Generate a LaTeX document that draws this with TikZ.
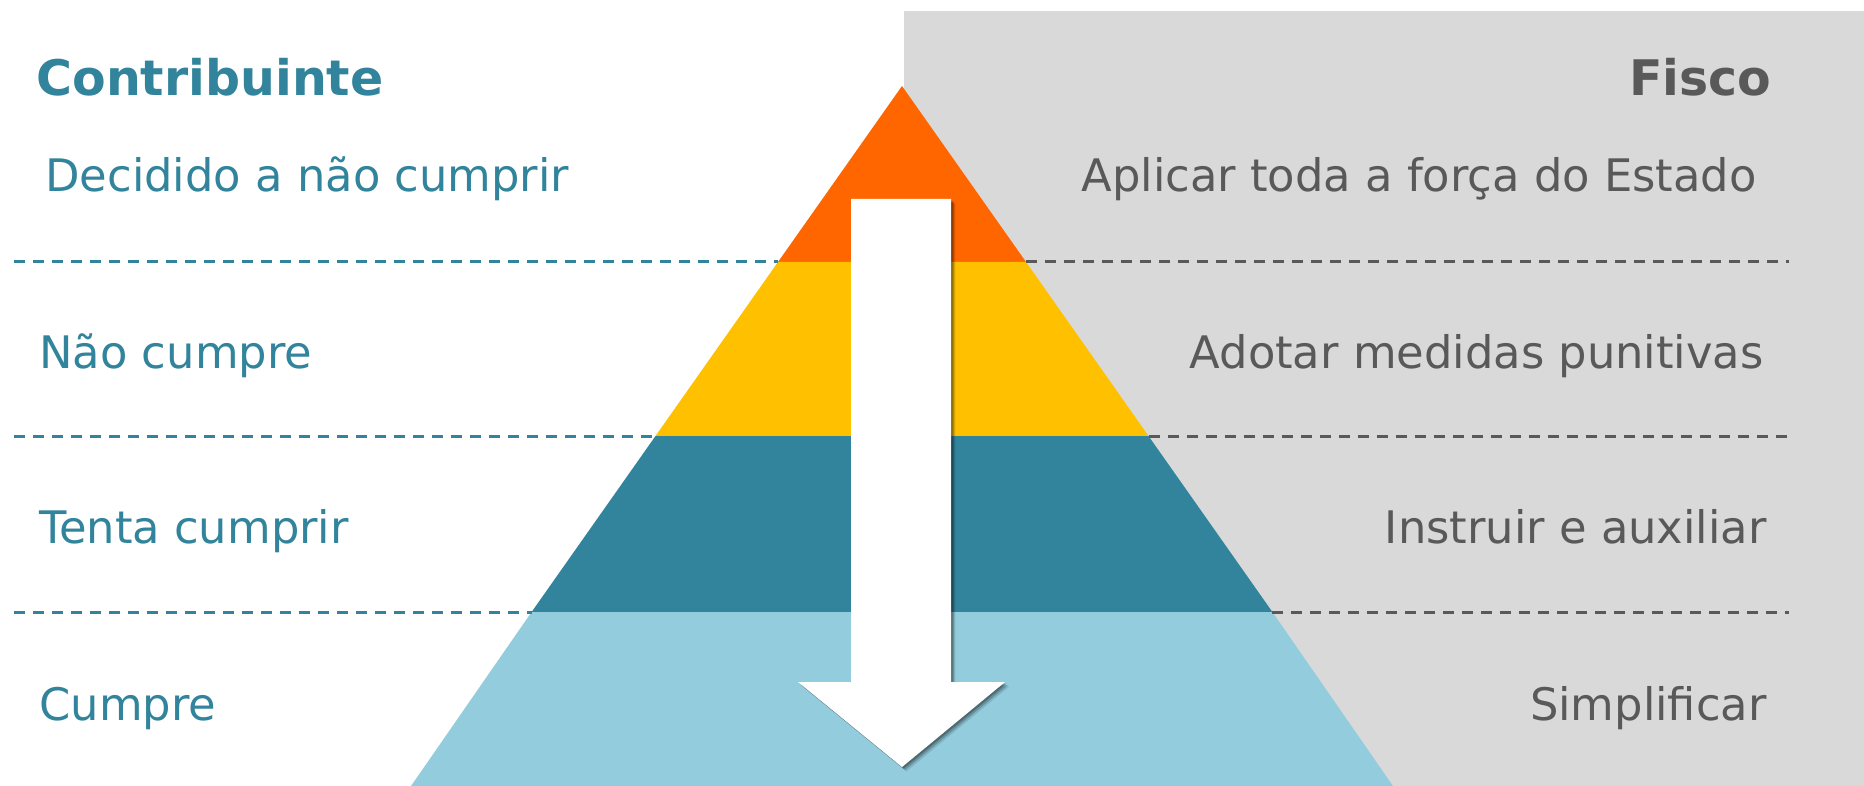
\documentclass[tikz,border=0pt]{standalone}
\usepackage{fontspec}
\setmainfont{DejaVu Sans}
\usetikzlibrary{shadows}
\definecolor{bggray}{HTML}{D9D9D9}
\definecolor{lvorange}{HTML}{FF6600}
\definecolor{lvyellow}{HTML}{FFC000}
\definecolor{lvteal}{HTML}{31849B}
\definecolor{lvlight}{HTML}{93CDDD}
\definecolor{txtgray}{HTML}{595959}
\begin{document}
\begin{tikzpicture}[x=0.5pt,y=-0.5pt,
  lefttext/.style={text=lvteal, font=\fontsize{22.4}{26}\selectfont, anchor=base west, inner sep=0pt},
  righttext/.style={text=txtgray, font=\fontsize{22.4}{26}\selectfont, anchor=base east, inner sep=0pt},
  headtext/.style={font=\bfseries\fontsize{24.5}{29}\selectfont, inner sep=0pt},
  leftdash/.style={draw=lvteal, line width=1.5pt, dash pattern=on 5.5pt off 4pt},
  rightdash/.style={draw=txtgray, line width=1.5pt, dash pattern=on 5.5pt off 4pt},
  arrowshape/.style={fill=white,
    drop shadow={shadow xshift=2.2pt, shadow yshift=-2.2pt, opacity=0.12, fill=black},
    drop shadow={shadow xshift=1.5pt, shadow yshift=-1.5pt, opacity=0.2, fill=black},
    drop shadow={shadow xshift=0.8pt, shadow yshift=-0.8pt, opacity=0.25, fill=black}}]
\useasboundingbox (0,0) rectangle (1864,786);
\fill[bggray] (904,11) rectangle (1864,786);
% pyramid points
\coordinate (apex) at (902,86);
\coordinate (l1) at (778,262);  \coordinate (r1) at (1026,262);
\coordinate (l2) at (655.5,436); \coordinate (r2) at (1148.5,436);
\coordinate (l3) at (531.6,612); \coordinate (r3) at (1272.4,612);
\coordinate (l4) at (411,786);  \coordinate (r4) at (1393,786);
\fill[lvorange] (apex) -- (l1) -- (r1) -- cycle;
\fill[lvyellow] (l1) -- (l2) -- (r2) -- (r1) -- cycle;
\fill[lvteal] (l2) -- (l3) -- (r3) -- (r2) -- cycle;
\fill[lvlight] (l3) -- (l4) -- (r4) -- (r3) -- cycle;
% dashed separators
\coordinate (d1l) at (14,262); \coordinate (d1r) at (1789,262);
\coordinate (d2l) at (14,436); \coordinate (d2r) at (1789,436);
\coordinate (d3l) at (14,612); \coordinate (d3r) at (1789,612);
\draw[leftdash] (d1l) -- (l1);
\draw[leftdash] (d2l) -- (l2);
\draw[leftdash] (d3l) -- (l3);
\draw[rightdash] (r1) -- (d1r);
\draw[rightdash] (r2) -- (d2r);
\draw[rightdash] (r3) -- (d3r);
% arrow
\path[arrowshape] (851,199) -- (951,199) -- (951,682) -- (1005,682) -- (902,767) -- (798,682) -- (851,682) -- cycle;
% headings
\node[headtext, text=lvteal, anchor=base west] (contrib) at (36,96) {Contribuinte};
\node[headtext, text=txtgray, anchor=base east] (fisco) at (1772,96) {Fisco};
% left labels
\node[lefttext] (c1) at (45,192) {Decidido a não cumprir};
\node[lefttext] (c2) at (39,368) {Não cumpre};
\node[lefttext] (c3) at (39,543) {Tenta cumprir};
\node[lefttext] (c4) at (39,720) {Cumpre};
% right labels
\node[righttext] (f1) at (1757,192) {Aplicar toda a força do Estado};
\node[righttext] (f2) at (1764,368) {Adotar medidas punitivas};
\node[righttext] (f3) at (1767,543) {Instruir e auxiliar};
\node[righttext] (f4) at (1767,720) {Simplificar};
\end{tikzpicture}
\end{document}
